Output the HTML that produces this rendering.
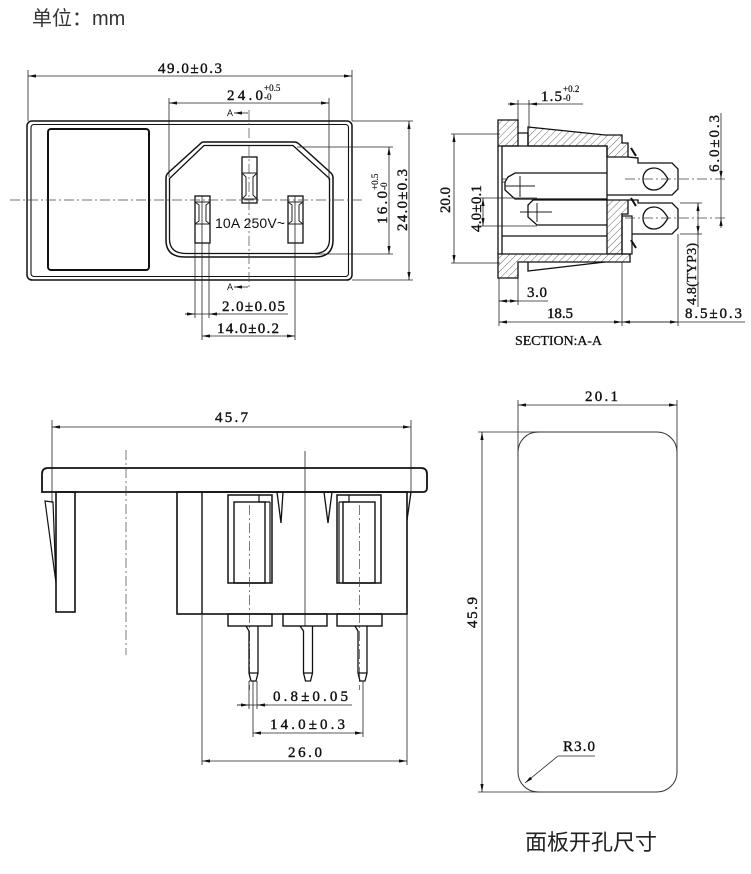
<!DOCTYPE html>
<html><head><meta charset="utf-8"><style>
html,body{margin:0;padding:0;background:#fff;}
svg{display:block;}
.o{fill:none;stroke:#111;stroke-width:1.5;}
.t{fill:none;stroke:#222;stroke-width:0.8;}
.c{fill:none;stroke:#444;stroke-width:0.7;stroke-dasharray:10 3 2 3;}
.d{font-family:"Liberation Serif",serif;font-size:15px;fill:#111;stroke:#111;stroke-width:0.4;}
.s{font-family:"Liberation Serif",serif;font-size:9px;fill:#111;stroke:#111;stroke-width:0.2;}
.hh{fill:url(#h);stroke:#111;stroke-width:1.3;}
</style></head><body>
<svg width="751" height="874" viewBox="0 0 751 874" xmlns="http://www.w3.org/2000/svg">
<defs>
<marker id="a" viewBox="0 0 10 4" refX="10" refY="2" markerWidth="8" markerHeight="3.2" markerUnits="userSpaceOnUse" orient="auto-start-reverse"><path d="M0,0L10,2L0,4z" fill="#111"/></marker>
<pattern id="h" patternUnits="userSpaceOnUse" width="5" height="5" patternTransform="rotate(45)"><rect width="5" height="5" fill="#fff"/><line x1="0" y1="0" x2="0" y2="5" stroke="#444" stroke-width="0.8"/></pattern>
</defs>

<text x="32" y="25" font-family="'Liberation Sans','Noto Sans CJK SC',sans-serif" font-size="20" fill="#333">单位：mm</text>

<!-- ===== TOP VIEW ===== -->
<line class="t" x1="28" y1="70" x2="28" y2="121"/>
<line class="t" x1="352" y1="70" x2="352" y2="121"/>
<line class="t" x1="28" y1="76" x2="352" y2="76" marker-start="url(#a)" marker-end="url(#a)"/>
<text class="d" x="158" y="73" textLength="64">49.0±0.3</text>

<rect class="o" x="27" y="121" width="325" height="159" rx="5"/>
<rect x="31" y="124.5" width="317.5" height="152" rx="3" fill="none" stroke="#111" stroke-width="1.1"/>
<rect x="48" y="129" width="101" height="141" rx="3" fill="none" stroke="#111" stroke-width="2"/>

<line class="t" x1="169" y1="98" x2="169" y2="177"/>
<line class="t" x1="329" y1="98" x2="329" y2="180"/>
<line class="t" x1="169" y1="103" x2="329" y2="103" marker-start="url(#a)" marker-end="url(#a)"/>
<text class="d" x="227" y="100" textLength="36">24.0</text>
<text class="s" x="264" y="91">+0.5</text>
<text class="s" x="264" y="100">-0</text>

<path class="o" d="M203,142 L294,142 Q297,142 299,144 L331,173 Q333,175 333,178 L333,240 Q333,257 315,257 L185,257 Q166,257 166,240 L166,178 Q166,175 168,173 L200,144 Q202,142 203,142 Z"/>
<path class="o" d="M204,145.5 L293,145.5 L329.5,178.5 L329.5,239 Q329.5,253.5 314,253.5 L186,253.5 Q169.5,253.5 169.5,239 L169.5,178.5 Z" style="stroke-width:1.3"/>

<rect class="o" x="242" y="157" width="15" height="46" style="stroke-width:1.3"/>
<path class="t" d="M242,173 H257 M242,199 H257 M242,173 L246,177 V195 L242,199 M257,173 L253,177 V195 L257,199" style="stroke-width:1"/>
<rect class="o" x="195" y="196" width="15" height="47" style="stroke-width:1.3"/>
<path class="t" d="M195,202 H210 M195,224 H210 M195,202 L199,205 V221 L195,224 M210,202 L206,205 V221 L210,224" style="stroke-width:1"/>
<rect class="o" x="288" y="196" width="15" height="47" style="stroke-width:1.3"/>
<path class="t" d="M288,202 H303 M288,224 H303 M288,202 L292,205 V221 L288,224 M303,202 L299,205 V221 L303,224" style="stroke-width:1"/>

<text x="215" y="228" font-family="'Liberation Sans',sans-serif" font-size="14" fill="#111" textLength="70">10A 250V~</text>

<line class="c" x1="10" y1="200" x2="363" y2="200"/>
<line class="c" x1="249" y1="110" x2="249" y2="290"/>

<text x="227" y="116" font-family="'Liberation Sans',sans-serif" font-size="9" fill="#111">A</text>
<line class="t" x1="248" y1="113" x2="234" y2="113" marker-end="url(#a)"/>
<text x="227" y="290" font-family="'Liberation Sans',sans-serif" font-size="9" fill="#111">A</text>
<line class="t" x1="248" y1="287" x2="234" y2="287" marker-end="url(#a)"/>

<line class="t" x1="297" y1="147" x2="393" y2="147"/>
<line class="t" x1="315" y1="254" x2="393" y2="254"/>
<line class="t" x1="389" y1="147" x2="389" y2="254" marker-start="url(#a)" marker-end="url(#a)"/>
<g transform="translate(387,224) rotate(-90)"><text class="d" x="0" y="0" textLength="33">16.0</text><text class="s" x="34" y="-9">+0.5</text><text class="s" x="34" y="0">-0</text></g>

<line class="t" x1="352" y1="121" x2="413" y2="121"/>
<line class="t" x1="352" y1="280" x2="413" y2="280"/>
<line class="t" x1="409" y1="121" x2="409" y2="280" marker-start="url(#a)" marker-end="url(#a)"/>
<text class="d" transform="translate(407,231) rotate(-90)" textLength="62">24.0±0.3</text>

<line class="t" x1="195" y1="243" x2="195" y2="318"/>
<line class="t" x1="209" y1="243" x2="209" y2="318"/>
<line class="t" x1="185" y1="314" x2="288" y2="314"/>
<line class="t" x1="185" y1="314" x2="195" y2="314" marker-end="url(#a)"/>
<line class="t" x1="220" y1="314" x2="209" y2="314" marker-end="url(#a)"/>
<text class="d" x="222" y="311" textLength="63">2.0±0.05</text>

<line class="t" x1="202" y1="196" x2="202" y2="340"/>
<line class="t" x1="295" y1="196" x2="295" y2="340"/>
<line class="t" x1="202" y1="336" x2="295" y2="336" marker-start="url(#a)" marker-end="url(#a)"/>
<text class="d" x="217" y="333" textLength="62">14.0±0.2</text>

<!-- ===== SECTION A-A ===== -->
<line class="t" x1="518" y1="100" x2="518" y2="120"/>
<line class="t" x1="529" y1="100" x2="529" y2="127"/>
<line class="t" x1="508" y1="104" x2="583" y2="104"/>
<line class="t" x1="508" y1="104" x2="518" y2="104" marker-end="url(#a)"/>
<line class="t" x1="540" y1="104" x2="529" y2="104" marker-end="url(#a)"/>
<text class="d" x="541" y="101" textLength="21">1.5</text>
<text class="s" x="563" y="92">+0.2</text>
<text class="s" x="563" y="101">-0</text>

<path class="hh" d="M498,120 H518 V146 H498 Z"/>
<path class="hh" d="M528,127 L605,135 H622 V143 H628 V157 H607 V146 H528 Z"/>
<path class="hh" d="M607,200 H628 V214 H622 V254 H607 Z"/>
<path class="hh" d="M498,254 H630 V262 H518 V278 H498 Z"/>
<path class="o" d="M498,146 V254 M502,146 V254 M518,133 H528 V146 M502,146 H607 V200" style="stroke-width:1.3"/>
<path class="o" d="M607,173 H515 L508,177 L505,182 V190 L515,199 H607" style="stroke-width:1.3"/>
<path class="t" d="M502,179 H506 M502,182 H506"/>
<path class="t" d="M505,186 H535 M520,176 V197" style="stroke-width:1"/>
<path class="o" d="M607,200 H533 L528,205 V217 L537,225 H607" style="stroke-width:1.3"/>
<path class="t" d="M520,212 H552 M537,203 V222" style="stroke-width:1"/>
<path class="o" d="M502,236 H607" style="stroke-width:1.3"/>
<path class="o" d="M528,262 V271 L605,262" style="stroke-width:1.3"/>
<path class="o" d="M631,148 L636,156 M631,198 L636,206 M631,240 L636,248" style="stroke-width:2"/>
<path class="o" d="M628,157 L638,158 V163 H672 L678,169 V189 L672,195 H607" style="stroke-width:1.3"/>
<path class="o" d="M628,200 H638 V203 H672 L678,209 V228 L672,234 H632" style="stroke-width:1.3"/>
<rect class="o" x="622" y="216" width="10" height="38" style="stroke-width:1.2"/>
<path class="o" d="M668,179 C664,172 660,168 654,168 C647,168 643,173 643,179 C643,185 647,190 654,190 C660,190 664,186 668,179 Z" style="stroke-width:1.3"/>
<path class="o" d="M668,218 C664,211 660,207 654,207 C647,207 643,212 643,218 C643,224 647,229 654,229 C660,229 664,225 668,218 Z" style="stroke-width:1.3"/>
<line class="c" x1="625" y1="179" x2="725" y2="179"/>
<line class="c" x1="625" y1="218" x2="727" y2="218"/>

<line class="t" x1="451" y1="134" x2="500" y2="134"/>
<line class="t" x1="451" y1="263" x2="500" y2="263"/>
<line class="t" x1="454" y1="134" x2="454" y2="263" marker-start="url(#a)" marker-end="url(#a)"/>
<text class="d" transform="translate(450,213) rotate(-90)" textLength="26">20.0</text>
<line class="t" x1="480" y1="198" x2="537" y2="198"/>
<line class="t" x1="480" y1="226" x2="537" y2="226"/>
<line class="t" x1="483" y1="198" x2="483" y2="226" marker-start="url(#a)" marker-end="url(#a)"/>
<text class="d" transform="translate(481,232) rotate(-90)" textLength="47">4.0±0.1</text>
<line class="t" x1="721" y1="113" x2="721" y2="218"/>
<line class="t" x1="721" y1="170" x2="721" y2="179" marker-end="url(#a)"/>
<line class="t" x1="721" y1="228" x2="721" y2="218" marker-end="url(#a)"/>
<text class="d" transform="translate(719,172) rotate(-90)" textLength="57">6.0±0.3</text>
<line class="t" x1="680" y1="203" x2="702" y2="203"/>
<line class="t" x1="680" y1="234" x2="702" y2="234"/>
<line class="t" x1="698" y1="203" x2="698" y2="307"/>
<line class="t" x1="698" y1="213" x2="698" y2="203" marker-end="url(#a)"/>
<line class="t" x1="698" y1="224" x2="698" y2="234" marker-end="url(#a)"/>
<text transform="translate(696,305) rotate(-90)" font-family="'Liberation Serif',serif" font-size="14" fill="#111" stroke="#111" stroke-width="0.3" textLength="62">4.8(TYP3)</text>
<line class="t" x1="499" y1="278" x2="499" y2="326"/>
<line class="t" x1="518" y1="278" x2="518" y2="305"/>
<line class="t" x1="622" y1="262" x2="622" y2="326"/>
<line class="t" x1="678" y1="234" x2="678" y2="326"/>
<line class="t" x1="499" y1="301" x2="548" y2="301"/>
<line class="t" x1="499" y1="301" x2="518" y2="301" marker-start="url(#a)" marker-end="url(#a)"/>
<text class="d" x="527" y="297" textLength="20">3.0</text>
<line class="t" x1="499" y1="322" x2="622" y2="322" marker-start="url(#a)" marker-end="url(#a)"/>
<text class="d" x="547" y="318" textLength="26">18.5</text>
<line class="t" x1="622" y1="322" x2="745" y2="322"/>
<line class="t" x1="622" y1="322" x2="678" y2="322" marker-start="url(#a)" marker-end="url(#a)"/>
<text class="d" x="685" y="318" textLength="57">8.5±0.3</text>
<text x="515" y="345" font-family="'Liberation Serif',serif" font-size="14" fill="#111" stroke="#111" stroke-width="0.3" textLength="87">SECTION:A-A</text>

<!-- ===== BOTTOM-LEFT VIEW ===== -->
<line class="t" x1="52" y1="420" x2="52" y2="503"/>
<line class="t" x1="411" y1="420" x2="411" y2="492"/>
<line class="t" x1="52" y1="427" x2="411" y2="427" marker-start="url(#a)" marker-end="url(#a)"/>
<text class="d" x="215" y="422" textLength="33">45.7</text>

<path class="o" d="M42,492 V474 Q42,468 48,468 H421 Q427,468 427,474 V488 Q427,492 423,492 Z" style="stroke-width:1.8"/>
<rect class="o" x="56" y="492" width="19" height="120" style="stroke-width:1.6"/>
<path class="o" d="M45,501 L53,502 L56,583 Z" style="stroke-width:1.2"/>
<line class="c" x1="126" y1="450" x2="126" y2="655"/>
<line class="t" x1="305" y1="451" x2="305" y2="626"/>
<rect class="o" x="177" y="492" width="230" height="122" style="stroke-width:1.6"/>
<line class="o" x1="202" y1="492" x2="202" y2="614" style="stroke-width:1.4"/>

<rect class="o" x="228" y="495" width="44" height="88" style="stroke-width:1.5"/>
<rect class="o" x="234" y="502" width="31" height="81" style="stroke-width:1.4"/>
<path class="o" d="M270,502 V583 M259,495 V502 H270" style="stroke-width:1.2"/>
<rect class="o" x="337" y="495" width="44" height="88" style="stroke-width:1.5"/>
<rect class="o" x="343" y="502" width="32" height="81" style="stroke-width:1.4"/>
<path class="o" d="M339,502 V583 M349,495 V502 H339" style="stroke-width:1.2"/>

<path class="o" d="M277,492 L281,523 L283,492" style="stroke-width:1.3"/>
<path class="o" d="M324,492 L328,523 L332,492" style="stroke-width:1.3"/>
<path class="o" d="M411,492 L407,520" style="stroke-width:1.3"/>

<line class="c" x1="249.5" y1="505" x2="249.5" y2="690"/>
<line class="c" x1="359.5" y1="505" x2="359.5" y2="690"/>

<rect class="o" x="228" y="614" width="44" height="12" style="stroke-width:1.4"/>
<rect class="o" x="283" y="614" width="44" height="12" style="stroke-width:1.4"/>
<rect class="o" x="337" y="614" width="45" height="12" style="stroke-width:1.4"/>
<path class="o" d="M246,626 L249,631 V673 L251,681 H256 L258,673 V626 M249,673 H258" style="stroke-width:1.3"/>
<path class="o" d="M300,626 L303.5,631 V673 L305.5,681 H310.5 L312.5,673 V626 M303.5,673 H312.5" style="stroke-width:1.3"/>
<path class="o" d="M355,626 L358,631 V673 L360,681 H365 L367,673 V626 M358,673 H367" style="stroke-width:1.3"/>

<line class="t" x1="249" y1="681" x2="249" y2="709"/>
<line class="t" x1="257" y1="681" x2="257" y2="709"/>
<line class="t" x1="237" y1="705" x2="352" y2="705"/>
<line class="t" x1="237" y1="705" x2="249" y2="705" marker-end="url(#a)"/>
<line class="t" x1="268" y1="705" x2="257" y2="705" marker-end="url(#a)"/>
<text class="d" x="273" y="701" textLength="75">0.8±0.05</text>
<line class="t" x1="253" y1="681" x2="253" y2="737"/>
<line class="t" x1="363" y1="681" x2="363" y2="737"/>
<line class="t" x1="253" y1="733" x2="363" y2="733" marker-start="url(#a)" marker-end="url(#a)"/>
<text class="d" x="270" y="729" textLength="75">14.0±0.3</text>
<line class="t" x1="202" y1="614" x2="202" y2="765"/>
<line class="t" x1="407" y1="614" x2="407" y2="765"/>
<line class="t" x1="202" y1="761" x2="407" y2="761" marker-start="url(#a)" marker-end="url(#a)"/>
<text class="d" x="288" y="757" textLength="34">26.0</text>

<!-- ===== PANEL CUTOUT ===== -->
<line class="t" x1="518" y1="400" x2="518" y2="455"/>
<line class="t" x1="677" y1="400" x2="677" y2="455"/>
<line class="t" x1="518" y1="405" x2="677" y2="405" marker-start="url(#a)" marker-end="url(#a)"/>
<text class="d" x="585" y="401" textLength="33">20.1</text>
<rect x="518" y="432" width="159" height="360" rx="20" fill="none" stroke="#333" stroke-width="1"/>
<line class="t" x1="478" y1="432" x2="540" y2="432"/>
<line class="t" x1="478" y1="792" x2="540" y2="792"/>
<line class="t" x1="482" y1="432" x2="482" y2="792" marker-start="url(#a)" marker-end="url(#a)"/>
<text class="d" transform="translate(477,628) rotate(-90)" textLength="31">45.9</text>
<text class="d" x="563" y="751" textLength="32">R3.0</text>
<line class="t" x1="595" y1="756" x2="558" y2="756"/>
<line class="t" x1="558" y1="756" x2="525" y2="783" marker-end="url(#a)"/>
<text x="525" y="850" font-family="'Noto Sans CJK SC','WenQuanYi Zen Hei',sans-serif" font-size="22" fill="#222">面板开孔尺寸</text>
</svg>
</body></html>
